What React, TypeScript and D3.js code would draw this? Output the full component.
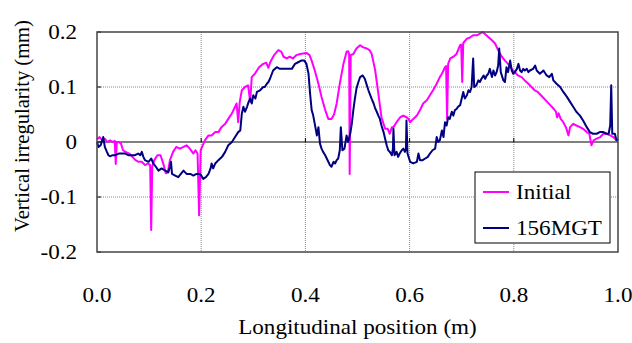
import React from 'react';
import * as d3 from 'd3';

// position (m), vertical irregularity (mm)
const initialData: [number, number][] = [
  [0.000, 0.005], [0.005, 0.009], [0.010, 0.003], [0.015, 0.006], [0.020, 0.000], [0.025, 0.003],
  [0.030, 0.000], [0.034, 0.002], [0.036, -0.040], [0.038, 0.000], [0.042, 0.000], [0.046, -0.003],
  [0.050, -0.015], [0.055, -0.018], [0.062, -0.021], [0.068, -0.027], [0.074, -0.033], [0.080, -0.036],
  [0.086, -0.036], [0.092, -0.042], [0.098, -0.039], [0.102, -0.042], [0.104, -0.160], [0.106, -0.045],
  [0.110, -0.033], [0.116, -0.024], [0.122, -0.024], [0.125, -0.033], [0.128, -0.042], [0.132, -0.057],
  [0.136, -0.055], [0.140, -0.033], [0.146, -0.018], [0.152, -0.009], [0.159, -0.012], [0.166, -0.009],
  [0.172, -0.006], [0.178, -0.012], [0.185, -0.021], [0.189, -0.015], [0.193, -0.021], [0.196, -0.133],
  [0.199, -0.015], [0.203, -0.006], [0.207, 0.003], [0.214, 0.012], [0.220, 0.012], [0.227, 0.018],
  [0.233, 0.018], [0.239, 0.027], [0.246, 0.033], [0.252, 0.042], [0.259, 0.052], [0.265, 0.064],
  [0.268, 0.070], [0.271, 0.036], [0.274, 0.073], [0.278, 0.094], [0.284, 0.100], [0.290, 0.103],
  [0.294, 0.073], [0.297, 0.118], [0.303, 0.124], [0.311, 0.136], [0.319, 0.142], [0.325, 0.144],
  [0.329, 0.135], [0.333, 0.146], [0.340, 0.158], [0.348, 0.167], [0.354, 0.164], [0.358, 0.155],
  [0.364, 0.152], [0.370, 0.155], [0.376, 0.152], [0.383, 0.158], [0.390, 0.160], [0.396, 0.161],
  [0.402, 0.162], [0.408, 0.158], [0.412, 0.148], [0.418, 0.130], [0.425, 0.106], [0.431, 0.082],
  [0.438, 0.058], [0.444, 0.042], [0.450, 0.042], [0.455, 0.050], [0.460, 0.070], [0.466, 0.106],
  [0.473, 0.142], [0.479, 0.164], [0.482, 0.165], [0.484, 0.160], [0.485, -0.058], [0.487, 0.158],
  [0.492, 0.160], [0.498, 0.170], [0.505, 0.176], [0.511, 0.172], [0.518, 0.170], [0.523, 0.167],
  [0.527, 0.161], [0.530, 0.148], [0.534, 0.130], [0.540, 0.088], [0.546, 0.045], [0.553, 0.024],
  [0.558, 0.024], [0.562, 0.015], [0.566, 0.027], [0.569, 0.027], [0.575, 0.036], [0.582, 0.045],
  [0.588, 0.048], [0.594, 0.045], [0.598, 0.042], [0.601, 0.036], [0.607, 0.042], [0.614, 0.048],
  [0.620, 0.058], [0.626, 0.070], [0.633, 0.076], [0.639, 0.085], [0.645, 0.094], [0.652, 0.106],
  [0.658, 0.118], [0.662, 0.124], [0.668, 0.136], [0.670, 0.138], [0.672, 0.042], [0.674, 0.142],
  [0.678, 0.152], [0.684, 0.155], [0.690, 0.160], [0.697, 0.176], [0.699, 0.177], [0.701, 0.109],
  [0.703, 0.180], [0.710, 0.188], [0.716, 0.190], [0.722, 0.194], [0.729, 0.194], [0.735, 0.197],
  [0.740, 0.200], [0.745, 0.196], [0.751, 0.191], [0.758, 0.185], [0.764, 0.179], [0.770, 0.167],
  [0.777, 0.155], [0.783, 0.148], [0.789, 0.142], [0.796, 0.133], [0.802, 0.127], [0.808, 0.121],
  [0.815, 0.118], [0.821, 0.112], [0.828, 0.106], [0.834, 0.100], [0.840, 0.094], [0.846, 0.091],
  [0.852, 0.085], [0.858, 0.079], [0.864, 0.073], [0.870, 0.067], [0.876, 0.061], [0.881, 0.055],
  [0.883, 0.045], [0.886, 0.052], [0.890, 0.042], [0.895, 0.036], [0.900, 0.027], [0.905, 0.012],
  [0.908, 0.027], [0.914, 0.033], [0.920, 0.030], [0.927, 0.027], [0.933, 0.024], [0.940, 0.018],
  [0.945, 0.015], [0.949, -0.006], [0.953, 0.003], [0.959, 0.006], [0.966, 0.009], [0.972, 0.015],
  [0.978, 0.015], [0.985, 0.012], [0.991, 0.009], [0.997, 0.003], [1.000, 0.003],
];

const mgtData: [number, number][] = [
  [0.000, 0.000], [0.003, -0.009], [0.007, -0.006], [0.010, 0.003], [0.012, 0.009], [0.015, -0.009],
  [0.019, -0.018], [0.022, -0.024], [0.025, -0.026], [0.030, -0.024], [0.035, -0.024], [0.042, -0.021],
  [0.048, -0.021], [0.054, -0.021], [0.060, -0.024], [0.066, -0.024], [0.073, -0.024], [0.079, -0.021],
  [0.083, -0.024], [0.086, -0.018], [0.089, -0.027], [0.092, -0.033], [0.099, -0.036], [0.104, -0.030],
  [0.108, -0.039], [0.113, -0.045], [0.118, -0.052], [0.124, -0.048], [0.131, -0.052], [0.137, -0.055],
  [0.140, -0.045], [0.142, -0.036], [0.144, -0.058], [0.150, -0.061], [0.156, -0.064], [0.161, -0.058],
  [0.166, -0.052], [0.172, -0.058], [0.179, -0.058], [0.185, -0.061], [0.191, -0.058], [0.198, -0.058],
  [0.204, -0.067], [0.209, -0.064], [0.214, -0.058], [0.218, -0.048], [0.220, -0.039], [0.223, -0.048],
  [0.227, -0.039], [0.233, -0.033], [0.240, -0.027], [0.246, -0.018], [0.252, -0.006], [0.259, 0.000],
  [0.265, 0.009], [0.271, 0.018], [0.275, 0.021], [0.278, 0.052], [0.281, 0.064], [0.284, 0.055],
  [0.288, 0.064], [0.291, 0.073], [0.294, 0.079], [0.297, 0.070], [0.300, 0.085], [0.304, 0.079],
  [0.307, 0.091], [0.313, 0.094], [0.319, 0.100], [0.322, 0.100], [0.326, 0.106], [0.329, 0.109],
  [0.332, 0.115], [0.338, 0.130], [0.345, 0.136], [0.351, 0.133], [0.358, 0.133], [0.366, 0.133],
  [0.374, 0.133], [0.380, 0.142], [0.386, 0.145], [0.392, 0.148], [0.398, 0.148], [0.402, 0.142],
  [0.406, 0.124], [0.409, 0.088], [0.412, 0.058], [0.415, 0.048], [0.418, 0.033], [0.422, 0.012],
  [0.425, 0.027], [0.428, -0.003], [0.431, -0.012], [0.434, -0.018], [0.438, -0.024], [0.441, -0.030],
  [0.444, -0.036], [0.447, -0.042], [0.450, -0.045], [0.454, -0.036], [0.457, -0.039], [0.460, -0.033],
  [0.463, -0.030], [0.466, -0.015], [0.468, 0.027], [0.471, -0.015], [0.475, -0.012], [0.479, 0.012],
  [0.482, 0.000], [0.486, 0.015], [0.489, 0.033], [0.492, 0.058], [0.495, 0.079], [0.498, 0.097],
  [0.502, 0.110], [0.505, 0.118], [0.510, 0.121], [0.514, 0.115], [0.518, 0.103], [0.521, 0.094],
  [0.527, 0.079], [0.531, 0.070], [0.534, 0.061], [0.537, 0.055], [0.540, 0.048], [0.543, 0.042],
  [0.546, 0.030], [0.550, 0.018], [0.553, 0.006], [0.556, -0.006], [0.559, -0.015], [0.562, -0.018],
  [0.566, -0.024], [0.568, -0.012], [0.569, 0.024], [0.571, -0.024], [0.575, -0.018], [0.578, -0.027],
  [0.581, -0.021], [0.585, -0.015], [0.588, -0.012], [0.591, -0.018], [0.593, -0.012], [0.594, 0.039],
  [0.596, -0.021], [0.601, -0.036], [0.607, -0.039], [0.614, -0.036], [0.617, -0.021], [0.620, -0.033],
  [0.625, -0.033], [0.630, -0.030], [0.635, -0.027], [0.639, -0.021], [0.644, -0.015], [0.649, -0.012],
  [0.652, 0.009], [0.655, 0.000], [0.658, 0.003], [0.662, 0.021], [0.665, 0.009], [0.668, 0.036],
  [0.671, 0.030], [0.674, 0.045], [0.677, 0.042], [0.681, 0.055], [0.684, 0.048], [0.687, 0.058],
  [0.690, 0.060], [0.693, 0.064], [0.697, 0.067], [0.700, 0.079], [0.703, 0.091], [0.706, 0.079],
  [0.710, 0.085], [0.713, 0.094], [0.716, 0.091], [0.719, 0.100], [0.722, 0.152], [0.724, 0.100],
  [0.728, 0.103], [0.732, 0.112], [0.735, 0.109], [0.738, 0.115], [0.742, 0.121], [0.745, 0.115],
  [0.748, 0.121], [0.751, 0.124], [0.754, 0.133], [0.758, 0.118], [0.761, 0.130], [0.764, 0.121],
  [0.767, 0.127], [0.770, 0.139], [0.772, 0.170], [0.775, 0.127], [0.780, 0.112], [0.783, 0.109],
  [0.786, 0.136], [0.789, 0.127], [0.793, 0.148], [0.796, 0.130], [0.799, 0.124], [0.802, 0.127],
  [0.806, 0.133], [0.809, 0.142], [0.812, 0.130], [0.815, 0.127], [0.818, 0.133], [0.821, 0.130],
  [0.825, 0.133], [0.828, 0.127], [0.831, 0.130], [0.837, 0.133], [0.841, 0.139], [0.844, 0.130],
  [0.850, 0.124], [0.857, 0.130], [0.863, 0.121], [0.868, 0.118], [0.873, 0.124], [0.876, 0.112],
  [0.882, 0.106], [0.889, 0.100], [0.895, 0.091], [0.902, 0.082], [0.908, 0.073], [0.914, 0.064],
  [0.920, 0.055], [0.927, 0.048], [0.933, 0.039], [0.940, 0.027], [0.946, 0.018], [0.952, 0.015],
  [0.959, 0.015], [0.965, 0.018], [0.972, 0.018], [0.978, 0.015], [0.982, 0.015], [0.985, 0.030],
  [0.987, 0.103], [0.989, 0.015], [0.994, 0.015], [0.997, 0.003], [1.000, 0.006],
];

const xTicks = [0, 0.2, 0.4, 0.6, 0.8, 1.0];
const yTicks = [-0.2, -0.1, 0, 0.1, 0.2];

const series = [
  { name: 'Initial', color: '#ff00ff', data: initialData },
  { name: '156MGT', color: '#000080', data: mgtData },
];

const FONT = '"Liberation Serif", "Times New Roman", serif';
const FS = 21;
// the source text is a bit wider than plain Times
const STRETCH = 1.1;

const fmtY = (t: number) => (t === 0 ? '0' : t.toFixed(1));

export default function App() {
  const W = 632, H = 343;
  const margin = { left: 97, right: 14, top: 32, bottom: 91 };
  const x = d3.scaleLinear().domain([0, 1]).range([margin.left, W - margin.right]);
  const y = d3.scaleLinear().domain([-0.2, 0.2]).range([H - margin.bottom, margin.top]);

  const line = d3.line<[number, number]>()
    .x(d => x(d[0]))
    .y(d => y(d[1]));

  const x0 = x(0), x1 = x(1), yT = y(0.2), yB = y(-0.2);

  const hText = (key: string, tx: number, ty: number, s: string, anchor: string, dy = '0') => (
    <text key={key} transform={`translate(${tx},${ty}) scale(${STRETCH},1)`} dy={dy}
      textAnchor={anchor} fontSize={FS} fill="#000">{s}</text>
  );

  return (
    <svg width={W} height={H} style={{ position: 'absolute', left: 0, top: 0, background: '#fff' }}
      fontFamily={FONT}>
      {/* grid */}
      {xTicks.slice(1, -1).map(t => (
        <line key={`gx${t}`} x1={x(t)} x2={x(t)} y1={yT} y2={yB} stroke="#888" strokeWidth={1} strokeDasharray="1,1" />
      ))}
      {yTicks.filter(t => t !== 0 && Math.abs(t) < 0.2).map(t => (
        <line key={`gy${t}`} x1={x0} x2={x1} y1={y(t)} y2={y(t)} stroke="#888" strokeWidth={1} strokeDasharray="1,1" />
      ))}

      {/* zero line with ticks */}
      <line x1={x0} x2={x1} y1={y(0)} y2={y(0)} stroke="#000" strokeWidth={1} />
      {xTicks.slice(1, -1).map(t => (
        <line key={`tx${t}`} x1={x(t)} x2={x(t)} y1={y(0)} y2={y(0) - 4} stroke="#000" strokeWidth={1} />
      ))}
      {yTicks.map(t => (
        <line key={`ty${t}`} x1={x0} x2={x0 + 4} y1={y(t)} y2={y(t)} stroke="#000" strokeWidth={1} />
      ))}

      {/* series */}
      {series.map(s => (
        <path key={s.name} d={line(s.data) || ''} fill="none" stroke={s.color} strokeWidth={2} strokeLinejoin="round" />
      ))}

      {/* frame */}
      <rect x={x0} y={yT} width={x1 - x0} height={yB - yT} fill="none" stroke="#444" strokeWidth={1.5} />

      {/* y labels */}
      {yTicks.map(t => hText(`ly${t}`, 77, y(t), fmtY(t), 'end', '0.35em'))}
      {/* x labels */}
      {xTicks.map(t => hText(`lx${t}`, x(t), 302, t.toFixed(1), 'middle'))}

      {hText('xt', x(0.5), 334, 'Longitudinal position (m)', 'middle')}
      <text transform={`translate(29, ${y(0) - 16}) rotate(-90)`} textAnchor="middle" fontSize={20.5} fill="#000">
        Vertical irregularity (mm)
      </text>

      {/* legend */}
      <g>
        <rect x={475} y={172} width={135} height={71} fill="#fff" stroke="#000" strokeWidth={1} />
        {series.map((s, i) => (
          <g key={`lg${s.name}`} transform={`translate(483, ${192 + i * 36})`}>
            <line x1={0} x2={26} y1={0} y2={0} stroke={s.color} strokeWidth={2} />
            {hText(`lt${s.name}`, 33, 0, s.name, 'start', '0.35em')}
          </g>
        ))}
      </g>
    </svg>
  );
}
